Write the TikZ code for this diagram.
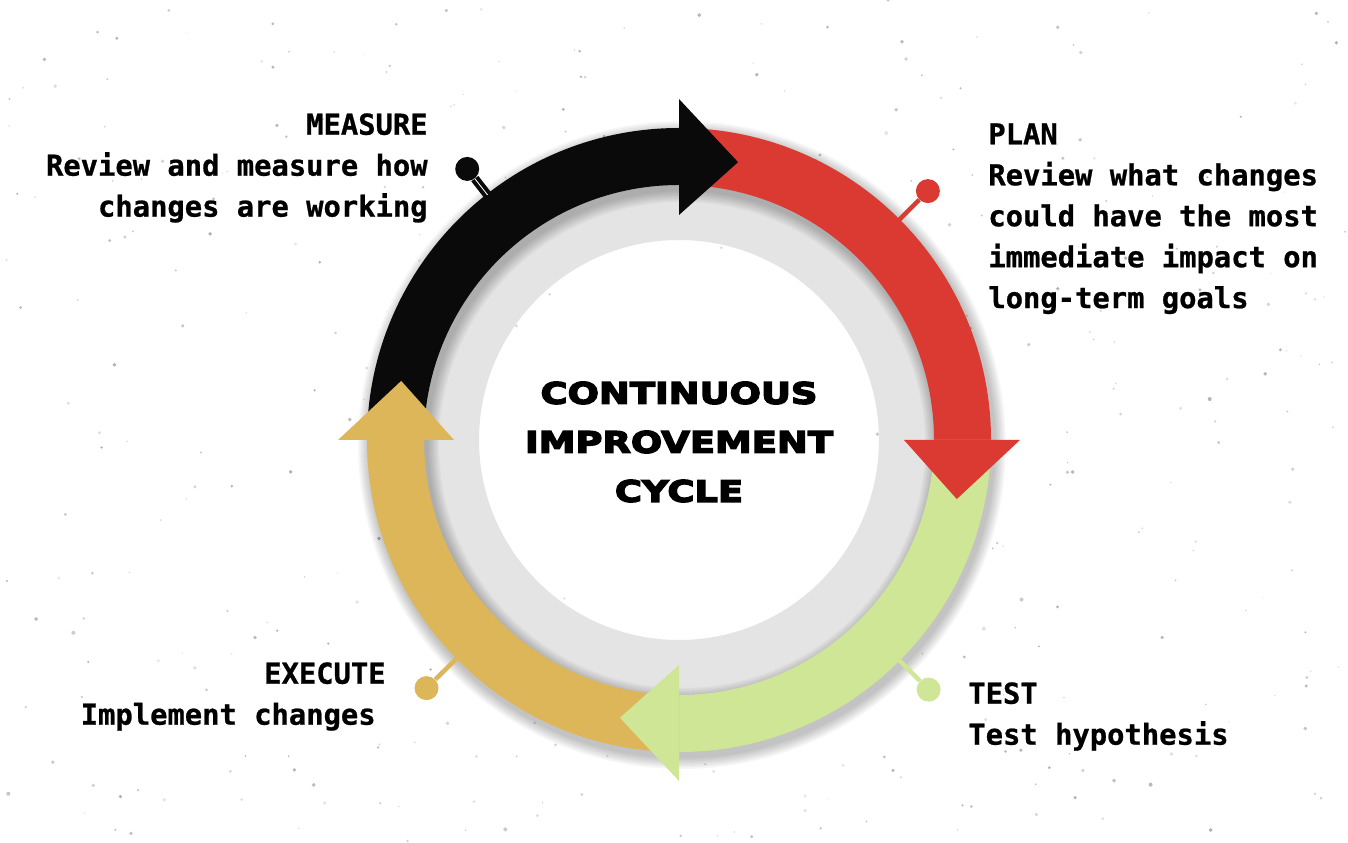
\documentclass[tikz,border=0pt]{standalone}
\usepackage{fontspec}
\usepackage{xcolor}
\usepackage{tikz}
\setmonofont{DejaVu Sans Mono}[BoldFeatures={FakeBold=0.8}]
\newfontfamily\CITitleFont{DejaVu Sans Bold}[FakeStretch=1.25,FakeBold=5]
\definecolor{CIBlack}{HTML}{0A0A0A}
\definecolor{CIRed}{HTML}{DB3A33}
\definecolor{CIGreen}{HTML}{CFE697}
\definecolor{CIGold}{HTML}{DDB65A}
\definecolor{CIRing}{HTML}{E4E4E4}
\definecolor{CISpeck}{HTML}{7A7A7A}
\newcommand\CIText{\ttfamily\bfseries\fontsize{16.4}{23.3}\selectfont}
\newcommand\CIHead{\CITitleFont\fontsize{16.8}{27.9}\selectfont}

\begin{document}
\begin{tikzpicture}[x=0.02cm,y=0.02cm,
  cilabel/.style={font=\CIText,inner sep=0pt},
  cidot/.style={circle,inner sep=0pt,minimum size=0.48cm},
  cistem/.style={line width=0.09cm}]
\path[use as bounding box] (0,0) rectangle (1348,842);
\fill[white] (0,0) rectangle (1348,842);
% speckled paper
\pgfmathsetseed{42}
\foreach \i in {1,...,420}{
  \pgfmathsetmacro\op{0.15+0.45*rnd}
  \fill[CISpeck,opacity=\op] (rnd*1348,rnd*842) circle ({0.5+rnd*1.5});
}
\begin{scope}[shift={(679,402)}]
% ring behind the arrows
\fill[CIRing,even odd rule] (0,0) circle (300) (0,0) circle (200);
\foreach \k in {1,...,4}
  \fill[white,opacity=0.25] (0,0) circle (200-3*\k);
\fill[white] (0,0) circle (189);
% soft shadow of the band
\foreach \k in {1,...,8}
  \draw[black,opacity=0.03,line width={(57+3*\k)*0.02cm}] (3,-5) circle (283.5);
% bands
\foreach \col/\s/\e in {CIBlack/180/90,CIRed/90/0,CIGreen/0/-90,CIGold/-90/-180}
  \fill[\col] (\s:312) arc[start angle=\s,end angle=\e,radius=312]
    -- (\e:255) arc[start angle=\e,end angle=\s,radius=255] -- cycle;
% arrow heads
\foreach \col/\b/\t in {CIBlack/90/78,CIRed/0/-12,CIGreen/-90/-102,CIGold/-180/-192}
  \fill[\col] (\b:225) -- (\b:341) -- (\t:284) -- cycle;
% connectors
\node[cidot,fill=CIBlack] (measuredot) at (128:344) {};
\coordinate (measureend) at (128:311);
\draw[cistem,CIBlack,line width=0.08cm,double=white,double distance=0.5pt] (measureend) -- (measuredot);
\node[cidot,fill=CIRed] (plandot) at (45:352) {};
\coordinate (planend) at (45:311);
\draw[cistem,CIRed] (planend) -- (plandot);
\node[cidot,fill=CIGreen] (testdot) at (-45:353) {};
\coordinate (testend) at (-45:311);
\draw[cistem,CIGreen] (testend) -- (testdot);
\node[cidot,fill=CIGold] (executedot) at (-135.5:354) {};
\coordinate (executeend) at (-135.5:311);
\draw[cistem,CIGold] (executeend) -- (executedot);
\end{scope}
\node[font=\CIHead,align=center,inner sep=0pt] (title) at (679,400) {CONTINUOUS\\IMPROVEMENT\\CYCLE};
\node[cilabel,align=right,anchor=north east] (measuretext) at (428,729) {MEASURE\\Review and measure how\\changes are working};
\node[cilabel,align=left,anchor=north west] (plantext) at (988,719) {PLAN\\Review what changes\\could have the most\\immediate impact on\\long-term goals};
\node[cilabel,align=left,anchor=north west] (testtext) at (968,160) {TEST\\Test hypothesis};
\node[cilabel,align=right,anchor=north east] (executetext) at (386,180) {EXECUTE\\Implement changes\kern0.2cm};
\end{tikzpicture}
\end{document}
